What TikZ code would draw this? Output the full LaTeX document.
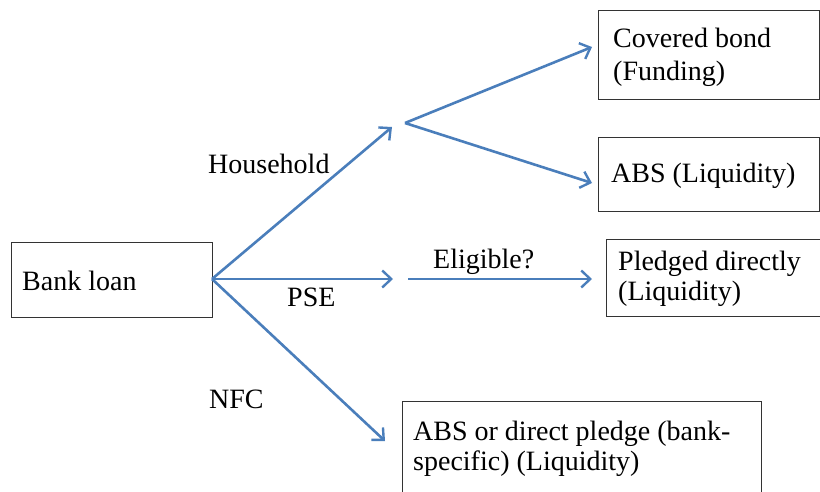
\documentclass[tikz,border=0pt]{standalone}
\usepackage{fontspec}
\setmainfont{Liberation Serif}
\usetikzlibrary{arrows.meta}
\definecolor{arrowblue}{RGB}{74,126,187}
\begin{document}
\begin{tikzpicture}[x=1pt,y=-1pt,
  box/.style={draw=black!80,line width=1.1pt,rectangle,anchor=north west,inner sep=0pt},
  txt/.style={anchor=base west,inner sep=0pt,font=\fontsize{28}{27}\selectfont},
  conn/.style={draw=arrowblue,line width=2.6pt,-{Straight Barb[length=9pt,width=17pt,line width=2.4pt]}}]
\useasboundingbox (0,0) rectangle (820,491);
% boxes
\node[box,minimum width=201pt,minimum height=75pt] (bankbox) at (11,242) {};
\node[box,minimum width=221pt,minimum height=89pt] (cbbox) at (598,10) {};
\node[box,minimum width=221pt,minimum height=74pt] (absbox) at (598,137) {};
\node[box,minimum width=214pt,minimum height=77pt] (pdbox) at (606,239) {};
\node[box,minimum width=359pt,minimum height=100pt] (nfcbox) at (402,401) {};
% box texts
\node[txt] (bank) at (22,290) {Bank loan};
\node[txt] (cb1) at (613,47) {Covered bond};
\node[txt] (cb2) at (613,80) {(Funding)};
\node[txt] (abs) at (611,182) {ABS (Liquidity)};
\node[txt] (pd1) at (618,270) {Pledged directly};
\node[txt] (pd2) at (618,300) {(Liquidity)};
\node[txt] (nf1) at (413,440) {ABS or direct pledge (bank-};
\node[txt] (nf2) at (413,470) {specific) (Liquidity)};
% edge labels
\node[txt] (hh) at (208,173) {Household};
\node[txt] (pse) at (287,306) {PSE};
\node[txt] (nfc) at (209,408) {NFC};
\node[txt] (elig) at (433,268) {Eligible?};
% connector points
\coordinate (src) at (212,279);
\coordinate (hhend) at (392,127);
\coordinate (pseend) at (393,279);
\coordinate (nfcend) at (385,441);
\coordinate (fork) at (405,123);
\coordinate (cbend) at (592,47);
\coordinate (absend) at (592,183);
\coordinate (eligstart) at (408,279);
\coordinate (eligend) at (592,279);
\draw[conn] (src) -- (hhend);
\draw[conn] (src) -- (pseend);
\draw[conn] (src) -- (nfcend);
\draw[conn] (fork) -- (cbend);
\draw[conn] (fork) -- (absend);
\draw[conn] (eligstart) -- (eligend);
\end{tikzpicture}
\end{document}
